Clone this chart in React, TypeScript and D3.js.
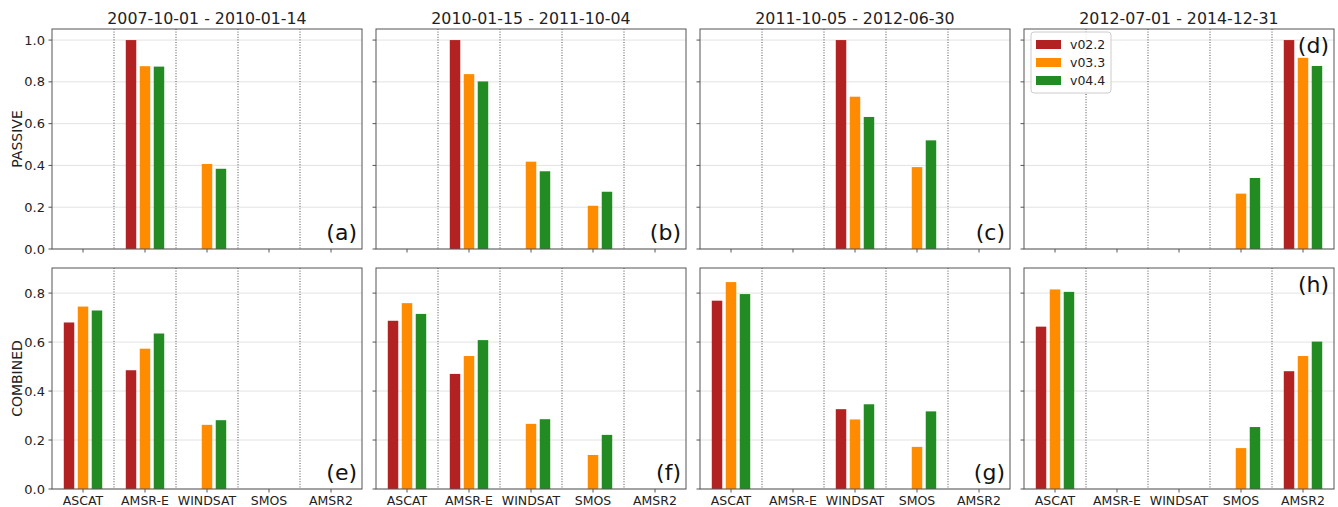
import React from "react";
import * as d3 from "d3";

// period titles (one column of panels each)
const periods = [
  "2007-10-01 - 2010-01-14",
  "2010-01-15 - 2011-10-04",
  "2011-10-05 - 2012-06-30",
  "2012-07-01 - 2014-12-31",
];
const sensors = ["ASCAT", "AMSR-E", "WINDSAT", "SMOS", "AMSR2"];
const versions = ["v02.2", "v03.3", "v04.4"];
const colors = ["#b22222", "#ff8c00", "#228b22"];

// PASSIVE row, one array per period, values per sensor
const passiveV022 = [
  [null, 1.0, null, null, null],
  [null, 1.0, null, null, null],
  [null, null, 1.0, null, null],
  [null, null, null, null, 1.0],
];
const passiveV033 = [
  [null, 0.875, 0.407, null, null],
  [null, 0.837, 0.418, 0.207, null],
  [null, null, 0.729, 0.392, null],
  [null, null, null, 0.265, 0.915],
];
const passiveV044 = [
  [null, 0.873, 0.384, null, null],
  [null, 0.802, 0.372, 0.274, null],
  [null, null, 0.632, 0.52, null],
  [null, null, null, 0.34, 0.876],
];

// COMBINED row
const combinedV022 = [
  [0.68, 0.485, null, null, null],
  [0.687, 0.47, null, null, null],
  [0.769, null, 0.326, null, null],
  [0.663, null, null, null, 0.481],
];
const combinedV033 = [
  [0.745, 0.573, 0.262, null, null],
  [0.759, 0.543, 0.266, 0.139, null],
  [0.845, null, 0.284, 0.172, null],
  [0.815, null, null, 0.167, 0.543],
];
const combinedV044 = [
  [0.729, 0.635, 0.281, null, null],
  [0.715, 0.608, 0.285, 0.221, null],
  [0.796, null, 0.346, 0.317, null],
  [0.805, null, null, 0.253, 0.602],
];

const passiveTicks = [0, 0.2, 0.4, 0.6, 0.8, 1.0];
const combinedTicks = [0, 0.2, 0.4, 0.6, 0.8];
const labelsTop = ["(a)", "(b)", "(c)", "(d)"];
const labelsBottom = ["(e)", "(f)", "(g)", "(h)"];

const W = 1338;
const H = 507;
const FONT = "DejaVu Sans, sans-serif";
const panelW = 310;
const panelStep = 324;
const left0 = 52;

const rows = [
  {
    name: "PASSIVE",
    top: 29,
    bottom: 249,
    max: 1.053,
    ticks: passiveTicks,
    series: [passiveV022, passiveV033, passiveV044],
    labels: labelsTop,
    showX: false,
  },
  {
    name: "COMBINED",
    top: 268,
    bottom: 489,
    max: 0.9025,
    ticks: combinedTicks,
    series: [combinedV022, combinedV033, combinedV044],
    labels: labelsBottom,
    showX: true,
  },
];

const x = d3.scaleBand<string>().domain(sensors).range([0, panelW]);
const bw = x.bandwidth();
const xInner = d3
  .scaleBand<string>()
  .domain(versions)
  .range([bw * 0.19, bw * 0.81])
  .paddingInner(0.25);

const Panel: React.FC<{ row: typeof rows[0]; col: number }> = ({ row, col }) => {
  const y = d3.scaleLinear().domain([0, row.max]).range([row.bottom, row.top]);
  const ox = left0 + col * panelStep;
  const labelTop = col === 3;
  return (
    <g transform={`translate(${ox},0)`}>
      {/* grid */}
      {row.ticks.map(t => (
        <line key={t} x1={0} x2={panelW} y1={y(t)} y2={y(t)} stroke="#e3e3e3" strokeWidth={1} />
      ))}
      {/* separators */}
      {sensors.slice(1).map(s => (
        <line
          key={s}
          x1={x(s)}
          x2={x(s)}
          y1={row.top}
          y2={row.bottom}
          stroke="#222"
          strokeWidth={0.8}
          strokeDasharray="1,1.6"
        />
      ))}
      {/* bars */}
      {row.series.map((ser, vi) =>
        ser[col].map((v, si) =>
          v == null ? null : (
            <rect
              key={`${vi}-${si}`}
              x={(x(sensors[si]) as number) + (xInner(versions[vi]) as number)}
              width={xInner.bandwidth()}
              y={y(v)}
              height={y(0) - y(v)}
              fill={colors[vi]}
            />
          )
        )
      )}
      {/* frame */}
      <rect x={0} y={row.top} width={panelW} height={row.bottom - row.top} fill="none" stroke="#555" strokeWidth={1} />
      {/* x ticks */}
      {sensors.map(s => (
        <g key={s}>
          <line
            x1={(x(s) as number) + bw / 2}
            x2={(x(s) as number) + bw / 2}
            y1={row.bottom}
            y2={row.bottom + 3.5}
            stroke="#555"
          />
          {row.showX && (
            <text
              x={(x(s) as number) + bw / 2}
              y={row.bottom + 16}
              textAnchor="middle"
              fontSize={12.5}
              fill="#222"
            >
              {s}
            </text>
          )}
        </g>
      ))}
      {/* y ticks */}
      {row.ticks.map(t => (
        <g key={t}>
          <line x1={-3.5} x2={0} y1={y(t)} y2={y(t)} stroke="#555" />
          {col === 0 && (
            <text x={-7} y={y(t)} dy="0.35em" textAnchor="end" fontSize={13} fill="#222">
              {t.toFixed(1)}
            </text>
          )}
        </g>
      ))}
      {/* panel letter */}
      <text
        x={panelW - 5}
        y={labelTop ? row.top + 24 : row.bottom - 9}
        textAnchor="end"
        fontSize={22}
        fill="#111"
      >
        {row.labels[col]}
      </text>
    </g>
  );
};

const Legend: React.FC = () => {
  const ox = left0 + 3 * panelStep + 7;
  const oy = 32;
  return (
    <g transform={`translate(${ox},${oy})`}>
      <rect x={0} y={0} width={80} height={61} rx={3} fill="white" fillOpacity={0.85} stroke="#ccc" />
      {versions.map((v, i) => (
        <g key={v} transform={`translate(0,${8 + i * 18})`}>
          <rect x={5} y={0} width={25} height={9} fill={colors[i]} />
          <text x={39} y={9} fontSize={12.5} fill="#222">
            {v}
          </text>
        </g>
      ))}
    </g>
  );
};

export default function App() {
  return (
    <div style={{ position: "fixed", left: 0, top: 0 }}>
      <svg width={W} height={H} style={{ display: "block", fontFamily: FONT }}>
        <rect width={W} height={H} fill="white" />
        {periods.map((p, i) => (
          <text
            key={p}
            x={left0 + i * panelStep + panelW / 2}
            y={24}
            textAnchor="middle"
            fontSize={15.8}
            fill="#222"
          >
            {p}
          </text>
        ))}
        {rows.map(row => (
          <g key={row.name}>
            <text
              transform={`translate(17.5,${(row.top + row.bottom) / 2}) rotate(-90)`}
              textAnchor="middle"
              dy="0.35em"
              fontSize={14}
              fill="#222"
            >
              {row.name}
            </text>
            {periods.map((_, c) => (
              <Panel key={c} row={row} col={c} />
            ))}
          </g>
        ))}
        <Legend />
      </svg>
    </div>
  );
}
